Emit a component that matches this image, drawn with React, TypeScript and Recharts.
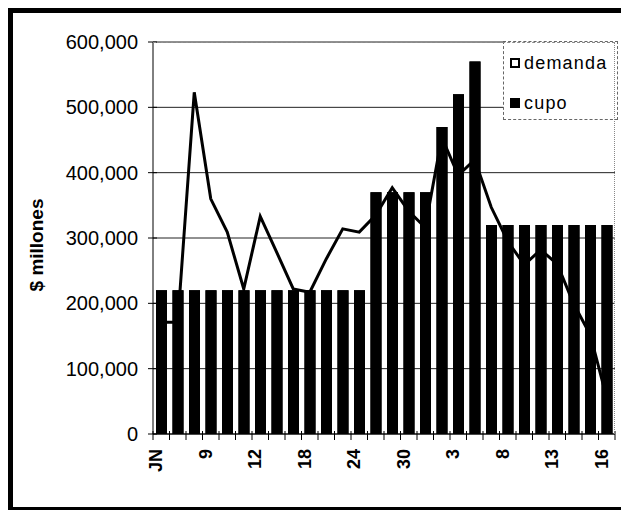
import React from 'react';
import { ComposedChart, Bar, Line, XAxis, YAxis, CartesianGrid, Legend } from 'recharts';

// dias: only every third day is labelled in the original
const dias = ['JN', '', '', '9', '', '', '12', '', '', '18', '', '', '24', '', '', '30', '', '', '3', '', '', '8', '', '', '13', '', '', '16'];
const demanda = [171000, 171000, 523000, 360000, 309000, 222000, 333000, 278000, 222000, 217000, 268000, 314000, 309000, 335000, 377000, 341000, 316000, 454000, 396000, 420000, 347000, 295000, 259000, 282000, 260000, 199000, 152000, 55000];
const cupo = [220000, 220000, 220000, 220000, 220000, 220000, 220000, 220000, 220000, 220000, 220000, 220000, 220000, 370000, 370000, 370000, 370000, 470000, 520000, 570000, 320000, 320000, 320000, 320000, 320000, 320000, 320000, 320000];
const yTicks = [0, 100000, 200000, 300000, 400000, 500000, 600000];

const data = dias.map((dia, i) => ({ dia, demanda: demanda[i], cupo: cupo[i] }));

const W = 621;
const H = 512;
const ML = 153;
const MR = 6;
const MT = 42;
const MB = 78;
const XH = 60;
const BAND = (W - ML - MR) / dias.length;
const FONT = "'Liberation Sans', Arial, sans-serif";

function YTick({ x, y, payload }: any) {
  return (
    <g>
      <line x1={x - 5} x2={x + 4} y1={y} y2={y} stroke="#000" />
      <text x={x - 15} y={y} textAnchor="end" dominantBaseline="central" fontFamily={FONT} fontSize={20} fill="#000">
        {payload.value.toLocaleString('en-US')}
      </text>
    </g>
  );
}

function XTick({ x, y, payload, index }: any) {
  const left = x - BAND / 2;
  return (
    <g>
      <line x1={left} x2={left} y1={y - 3} y2={y + 6} stroke="#000" />
      {index === dias.length - 1 && <line x1={x + BAND / 2} x2={x + BAND / 2} y1={y - 3} y2={y + 6} stroke="#000" />}
      {payload.value && (
        <text
          x={x - 5}
          y={y + 15}
          transform={`rotate(-90, ${x - 5}, ${y + 15})`}
          textAnchor="end"
          dominantBaseline="central"
          fontFamily={FONT}
          fontWeight="bold"
          fontSize={18}
          fill="#000"
        >
          {payload.value}
        </text>
      )}
    </g>
  );
}

function LegendBox({ payload }: any) {
  return (
    <div style={{ width: 115, height: 79, boxSizing: 'border-box', border: '1px dashed #666', background: '#fff', fontFamily: FONT, fontSize: 18, letterSpacing: 1.2, color: '#000', position: 'relative' }}>
      {(payload || []).map((entry: any, i: number) => (
        <div key={entry.value} style={{ position: 'absolute', left: 6, top: 10 + i * 40, height: 22, display: 'flex', alignItems: 'center' }}>
          <span style={{ display: 'inline-block', width: 10, height: 10, boxSizing: 'border-box', border: '2px solid #000', background: entry.dataKey === 'cupo' ? '#000' : '#fff', marginRight: 4 }} />
          <span>{entry.value}</span>
        </div>
      ))}
    </div>
  );
}

export default function App() {
  return (
    <div style={{ position: 'absolute', left: 0, top: 0, width: W, height: H, background: '#fff', overflow: 'hidden' }}>
      <div style={{ position: 'absolute', left: 8, top: 8, width: W - 8, height: 502, boxSizing: 'border-box', borderLeft: '5px solid #000', borderTop: '5px solid #000', borderBottom: '3px solid #000' }} />
      {/* axes, grid, line and legend */}
      <div style={{ position: 'absolute', left: 0, top: 0 }}>
        <ComposedChart width={W} height={H} data={data} margin={{ top: MT, right: MR, bottom: MB - XH, left: 0 }} barSize={11}>
          <CartesianGrid vertical={false} stroke="#222" />
          <XAxis dataKey="dia" interval={0} height={XH} tickSize={0} tickMargin={0} tickLine={false} axisLine={{ stroke: '#000' }} tick={<XTick />} />
          <YAxis width={ML} domain={[0, 600000]} ticks={yTicks} tickSize={0} tickMargin={0} tickLine={false} axisLine={{ stroke: '#000' }} tick={<YTick />} />
          <Legend
            layout="vertical"
            align="center"
            verticalAlign="middle"
            itemSorter={(item: any) => (item.dataKey === 'demanda' ? 0 : 1)}
            wrapperStyle={{ left: 503, top: 41, width: 115, height: 79 }}
            content={<LegendBox />}
          />
          <Bar dataKey="cupo" name="cupo" fill="#000" isAnimationActive={false} />
          <Line dataKey="demanda" name="demanda" stroke="#000" strokeWidth={3} dot={false} type="linear" isAnimationActive={false} />
        </ComposedChart>
      </div>
      {/* bars again on top, so the line passes behind them as in the original */}
      <div style={{ position: 'absolute', left: 0, top: 0, pointerEvents: 'none' }}>
        <ComposedChart width={W} height={H} data={data} margin={{ top: MT, right: MR, bottom: MB, left: ML }} barSize={11}>
          <XAxis dataKey="dia" hide />
          <YAxis domain={[0, 600000]} hide />
          <Bar dataKey="cupo" fill="#000" isAnimationActive={false} />
        </ComposedChart>
      </div>
      <div style={{ position: 'absolute', left: ML, top: MT, width: W - ML - MR, height: H - MT - MB, boxSizing: 'border-box', borderTop: '1px dashed #888', borderRight: '1px dotted #888', pointerEvents: 'none' }} />
      <div style={{ position: 'absolute', left: 37, top: 245, transform: 'translate(-50%, -50%) rotate(-90deg)', fontFamily: FONT, fontWeight: 'bold', fontSize: 19, whiteSpace: 'nowrap' }}>$ millones</div>
    </div>
  );
}
